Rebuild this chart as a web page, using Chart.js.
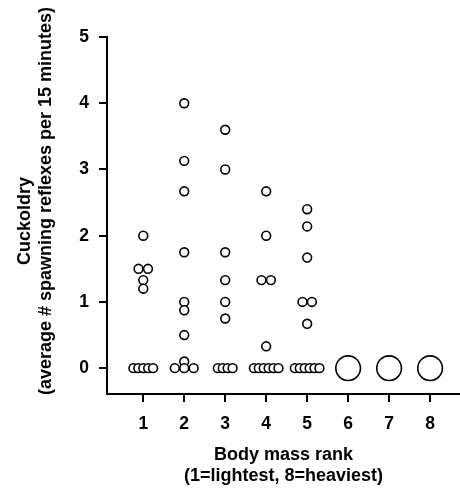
<!DOCTYPE html>
<html>
<head>
<meta charset="utf-8">
<script src="https://cdn.jsdelivr.net/npm/chart.js@4.4.1/dist/chart.umd.min.js"></script>
<style>
  html, body { margin: 0; padding: 0; background: #fff; }
  #wrap { width: 460px; height: 489px; }
</style>
</head>
<body>
<div id="wrap"><canvas id="chart"></canvas></div>
<script>
// body mass rank categories
const ranks = [1, 2, 3, 4, 5, 6, 7, 8];
const yTicks = [0, 1, 2, 3, 4, 5];
const yTitle = ['Cuckoldry', '(average # spawning reflexes per 15 minutes)'];

// cuckoldry per fish, one list per rank
const rank1 = [2.0, 1.5, 1.5, 1.33, 1.2, 0, 0, 0, 0, 0];
const rank2 = [4.0, 3.13, 2.67, 1.75, 1.0, 0.875, 0.5, 0.1, 0, 0, 0];
const rank3 = [3.6, 3.0, 1.75, 1.33, 1.0, 0.75, 0, 0, 0, 0];
const rank4 = [2.67, 2.0, 1.33, 1.33, 0.33, 0, 0, 0, 0, 0, 0];
const rank5 = [2.4, 2.14, 1.67, 1.0, 1.0, 0.67, 0, 0, 0, 0, 0, 0];
// ranks 6-8: single fish each, no cuckoldry
const rank6 = [0];
const rank7 = [0];
const rank8 = [0];

const FONT = "'Liberation Sans', Arial, sans-serif";

// spread tied values side by side around the rank
function spread(rank, values) {
    const out = [];
    const counts = {};
    values.forEach(v => { counts[v] = (counts[v] || 0) + 1; });
    const seen = {};
    values.forEach(v => {
        const n = counts[v];
        const i = seen[v] = (seen[v] === undefined ? 0 : seen[v] + 1);
        const step = n >= 4 ? 0.12 : 0.23;
        out.push({ x: rank + (i - (n - 1) / 2) * step, y: v });
    });
    return out;
}

const small = [rank1, rank2, rank3, rank4, rank5]
    .flatMap((vals, k) => spread(ranks[k], vals));
const big = [rank6, rank7, rank8]
    .flatMap((vals, k) => spread(ranks[k + 5], vals));

// y title drawn by hand so each line can sit where the original has it
const yTitlePlugin = {
    id: 'yTitle',
    afterDraw(chart) {
        const ctx = chart.ctx;
        const spots = [[25, 221], [46.5, 201]];
        ctx.save();
        ctx.font = 'bold 18px ' + FONT;
        ctx.fillStyle = '#000';
        ctx.textAlign = 'center';
        ctx.textBaseline = 'middle';
        yTitle.forEach((line, i) => {
            ctx.save();
            ctx.translate(spots[i][0], spots[i][1]);
            ctx.rotate(-Math.PI / 2);
            ctx.fillText(line, 0, 0);
            ctx.restore();
        });
        ctx.restore();
    },
};

new Chart(document.getElementById('chart'), {
    type: 'scatter',
    data: {
        datasets: [{
            data: small,
            pointRadius: 4.4,
            pointHoverRadius: 4.4,
            borderWidth: 1.6,
            borderColor: '#000',
            backgroundColor: '#fff',
        }, {
            data: big,
            pointRadius: 12.3,
            pointHoverRadius: 12.3,
            borderWidth: 1.6,
            borderColor: '#000',
            backgroundColor: '#fff',
        }],
    },
    plugins: [yTitlePlugin],
    options: {
        responsive: true,
        maintainAspectRatio: false,
        animation: false,
        events: [],
        layout: { autoPadding: false, padding: { top: 37, right: 0, left: 0, bottom: 0 } },
        plugins: { legend: { display: false }, tooltip: { enabled: false } },
        scales: {
            x: {
                type: 'linear',
                min: 0.115,
                max: 8.73,
                afterBuildTicks: s => { s.ticks = ranks.map(v => ({ value: v })); },
                afterFit: s => { s.height = 95; s.paddingLeft = 0; s.paddingRight = 0; },
                border: { color: '#000', width: 2 },
                grid: { drawOnChartArea: false, color: '#000', lineWidth: 2, tickLength: 8 },
                ticks: { color: '#000', padding: 12, font: { family: FONT, size: 17.5, weight: 'bold' } },
                title: {
                    display: true,
                    text: ['Body mass rank', '(1=lightest, 8=heaviest)'],
                    color: '#000',
                    padding: { top: 0, bottom: 2 },
                    font: { family: FONT, size: 18, weight: 'bold', lineHeight: 1.2 },
                },
            },
            y: {
                min: -0.39,
                max: 5,
                afterBuildTicks: s => { s.ticks = yTicks.map(v => ({ value: v })); },
                afterFit: s => { s.width = 107; },
                border: { color: '#000', width: 2 },
                grid: { drawOnChartArea: false, color: '#000', lineWidth: 2, tickLength: 8 },
                ticks: { color: '#000', padding: 10, font: { family: FONT, size: 17.5, weight: 'bold' } },
            },
        },
    },
});
</script>
</body>
</html>
